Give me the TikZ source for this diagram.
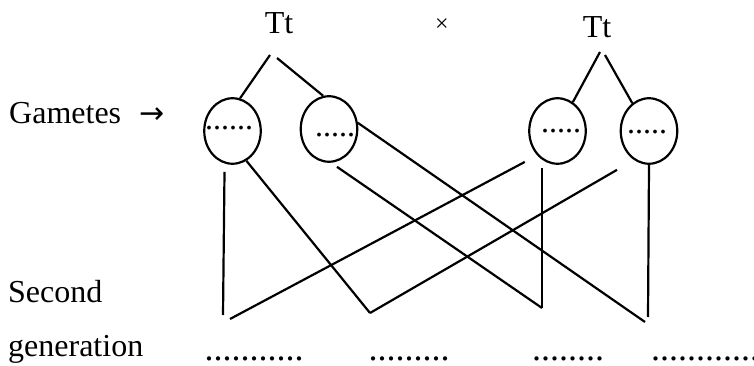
\documentclass[tikz,border=0pt]{standalone}
\usepackage{fontspec}
\setmainfont{Liberation Serif}
\newfontfamily\symfont{DejaVu Sans}
\usetikzlibrary{shapes.geometric}
\begin{document}
\begin{tikzpicture}[x=1pt,y=-1pt,
  lbl/.style={font=\fontsize{32}{38}\selectfont, inner sep=0pt, anchor=base},
  lblw/.style={lbl, anchor=base west},
  gam/.style={ellipse, draw, line width=2.2pt, minimum width=56.5pt, minimum height=65.5pt, inner sep=0pt},
  dts/.style={font=\fontsize{32}{38}\selectfont, inner sep=0pt},
  bdts/.style={font=\fontsize{36}{40}\selectfont, inner sep=0pt},
  ln/.style={line width=2.2pt}]
\useasboundingbox (0,0) rectangle (754,366);

% parents
\node[lbl] (P1) at (279,34) {Tt};
\node[lbl] (P2) at (597,38) {Tt};
\node[font=\fontsize{24}{28}\selectfont, inner sep=0pt] (X) at (442,25) {×};

% labels
\node[lblw] (Lg) at (9,124) {Gametes};
\node[font=\symfont\fontsize{30}{36}\selectfont, inner sep=0pt, anchor=base] (La) at (152,124) {→};
\node[lblw] (Ls) at (8,302) {Second};
\node[lblw] (Lgen) at (8,356) {generation};

% gametes
\node[gam] (G1) at (232.5,131) {};
\node[gam] (G2) at (329,129) {};
\node[gam] (G3) at (557.5,131) {};
\node[gam] (G4) at (649,131) {};
\node[dts] (D1) at (229,128) {......};
\node[dts] (D2) at (335,135) {.....};
\node[dts] (D3) at (561,131) {.....};
\node[dts] (D4) at (647,132) {.....};

% branches
\draw[ln] ([xshift=-9pt,yshift=-21pt]P1.base) -- (G1.77);
\draw[ln] ([xshift=-2pt,yshift=-24pt]P1.base) -- (G2.100);
\draw[ln] ([xshift=3pt,yshift=-14pt]P2.base) -- (G3.62);
\draw[ln] ([xshift=8pt,yshift=-17pt]P2.base) -- (G4.121);

% offspring end points
\coordinate (B1) at (223,315);
\coordinate (B1r) at (230,319);
\coordinate (B2) at (370,313);
\coordinate (B3) at (542,308);
\coordinate (B4) at (648,317);
\coordinate (B4l) at (645,322);

% crosses
\draw[ln] ([xshift=-8pt,yshift=-7pt]G1.south) -- (B1);
\draw[ln] (G1.-65) -- (B2);
\draw[ln] ([xshift=8pt,yshift=-4pt]G2.south) -- (B3);
\draw[ln] (G2.12) -- (B4l);
\draw[ln] ([xshift=-12pt,yshift=-7pt]G3.south west) -- (B1r);
\draw[ln] ([xshift=-32pt,yshift=-5pt]G4.south) -- (B2);
\draw[ln] ([xshift=-15.5pt,yshift=-3pt]G3.south) -- (B3);
\draw[ln] (G4.south) -- (B4);

% second generation blanks
\node[bdts] (S1) at (254,359) {...........};
\node[bdts] (S2) at (409,359) {.........};
\node[bdts] (S3) at (568,359) {........};
\node[bdts] (S4) at (705,359) {............};
\end{tikzpicture}
\end{document}
